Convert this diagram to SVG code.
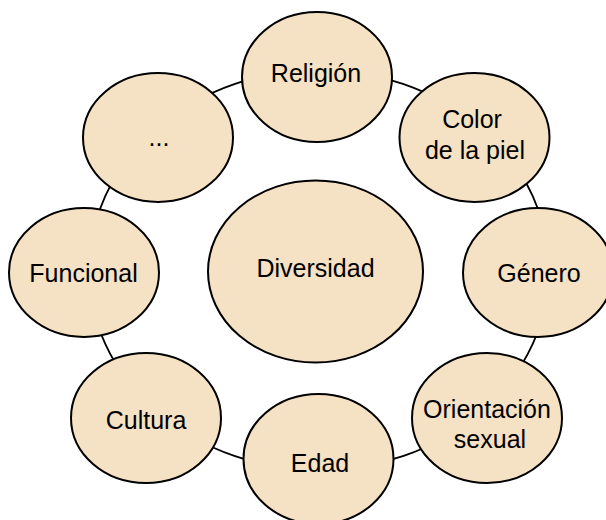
<svg xmlns="http://www.w3.org/2000/svg" width="606" height="520" viewBox="0 0 606 520">
<style>
.n{fill:#F5E1C3;stroke:#000;stroke-width:2}
.t{font-family:"Liberation Sans",Arial,sans-serif;font-size:25px;fill:#000;text-anchor:middle}
.c{fill:none;stroke:#000;stroke-width:1.8}
</style>
<rect width="606" height="520" fill="#fff"/>
<g id="connectors">
<ellipse class="c" cx="319" cy="270" rx="230" ry="200"/>
</g>
<g id="diversidad"><ellipse class="n" cx="315.5" cy="271.5" rx="107.5" ry="91"/><text class="t" x="315.5" y="277">Diversidad</text></g>
<g id="religion"><ellipse class="n" cx="317" cy="77" rx="75" ry="65"/><text class="t" x="316" y="82">Religión</text></g>
<g id="color"><ellipse class="n" cx="474.5" cy="137.5" rx="75" ry="64.5"/><text class="t" x="472" y="128">Color</text><text class="t" x="475" y="159">de la piel</text></g>
<g id="genero"><ellipse class="n" cx="538" cy="272.5" rx="75" ry="64.5"/><text class="t" x="539" y="282">Género</text></g>
<g id="orientacion"><ellipse class="n" cx="487" cy="418" rx="75" ry="65"/><text class="t" x="487" y="418">Orientación</text><text class="t" x="490" y="448">sexual</text></g>
<g id="edad"><ellipse class="n" cx="318.5" cy="459" rx="75" ry="65"/><text class="t" x="320" y="472">Edad</text></g>
<g id="cultura"><ellipse class="n" cx="146" cy="418" rx="75" ry="65"/><text class="t" x="146" y="429">Cultura</text></g>
<g id="funcional"><ellipse class="n" cx="84" cy="272.5" rx="75" ry="64.5"/><text class="t" x="83.5" y="282">Funcional</text></g>
<g id="otros"><ellipse class="n" cx="158" cy="137.5" rx="75" ry="64.5"/><text class="t" x="159" y="146">...</text></g>
</svg>
